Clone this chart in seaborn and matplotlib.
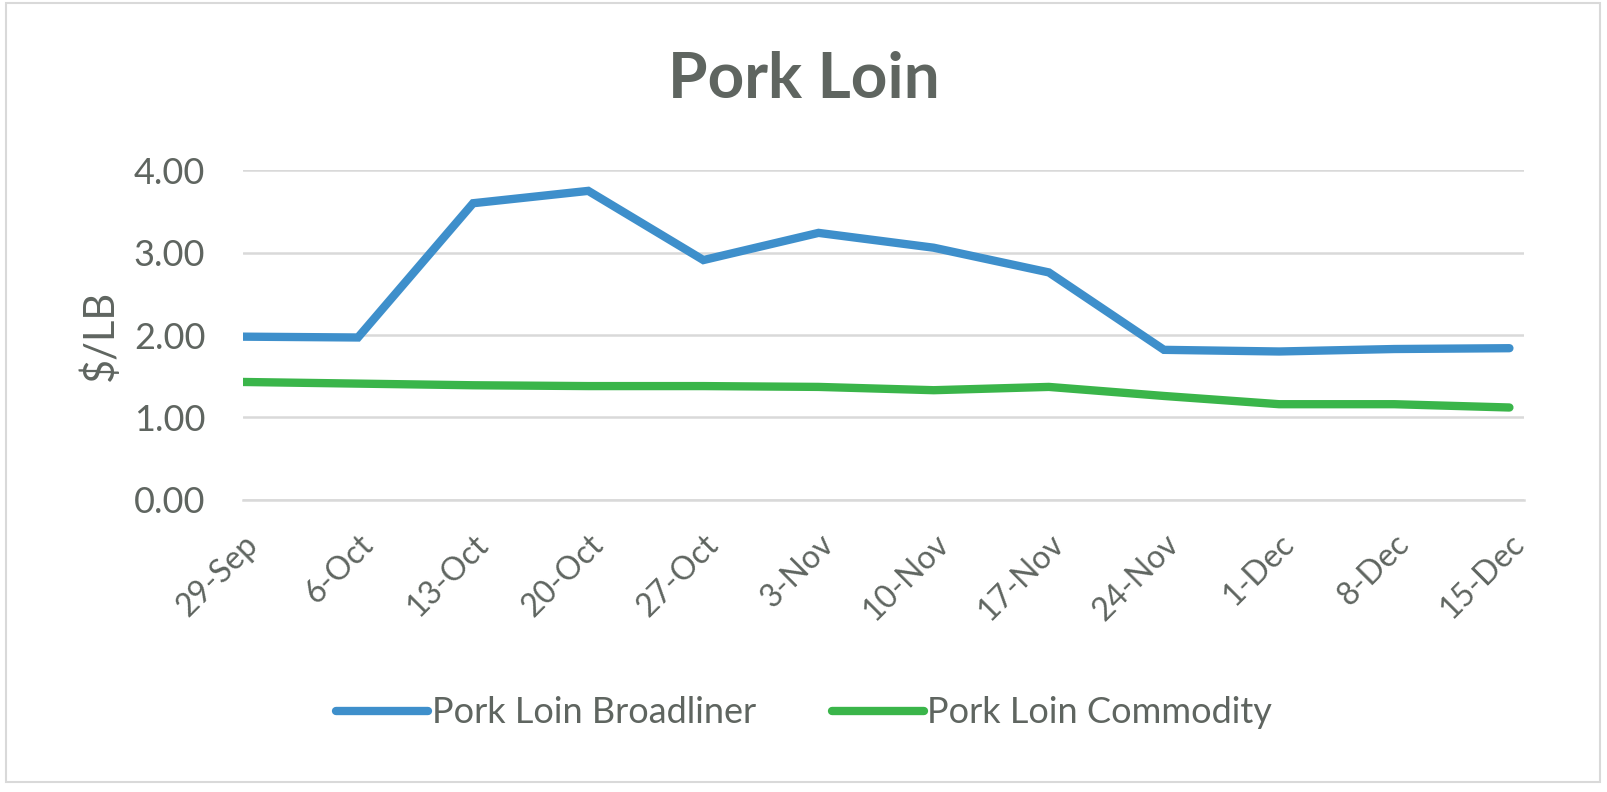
import matplotlib
matplotlib.use("Agg")
import matplotlib.pyplot as plt
import seaborn as sns
import pandas as pd
from matplotlib.patches import Rectangle

# data
weeks = ["29-Sep", "6-Oct", "13-Oct", "20-Oct", "27-Oct", "3-Nov",
         "10-Nov", "17-Nov", "24-Nov", "1-Dec", "8-Dec", "15-Dec"]
broadliner = [1.98, 1.97, 3.60, 3.75, 2.91, 3.24, 3.06, 2.76, 1.82, 1.80, 1.83, 1.84]
commodity = [1.43, 1.41, 1.39, 1.38, 1.38, 1.37, 1.33, 1.37, 1.26, 1.16, 1.16, 1.12]
series_names = ["Pork Loin Broadliner", "Pork Loin Commodity"]
colors = ["#3E8FCB", "#3AB54A"]

df = pd.DataFrame({
    "week": weeks * 2,
    "pos": list(range(len(weeks))) * 2,
    "price": broadliner + commodity,
    "series": [series_names[0]] * len(weeks) + [series_names[1]] * len(weeks),
})

sns.set_style("white")
plt.rcParams["font.family"] = ["Lato", "DejaVu Sans"]
grey = "#5F6560"

fig = plt.figure(figsize=(16.08, 7.92), dpi=100)
ax = fig.add_axes([0.151, 0.369, 0.797, 0.416])

sns.lineplot(data=df, x="pos", y="price", hue="series", palette=colors,
             linewidth=6, ax=ax, legend=False,
             solid_capstyle="round", solid_joinstyle="miter")

ax.set_xlim(0, len(weeks) - 1 + 0.13)
ax.set_ylim(0, 4)
ax.set_yticks([0, 1, 2, 3, 4])
ax.set_yticklabels([f"{v:.2f}" for v in [0, 1, 2, 3, 4]], fontsize=26, color=grey)
ax.set_xticks(range(len(weeks)))
ax.set_xticklabels(weeks, rotation=45, ha="right", rotation_mode="anchor",
                   fontsize=23, color=grey)
ax.tick_params(axis="x", direction="out", length=13, width=1.5, color="#D9D9D9", pad=8)
ax.tick_params(axis="y", length=0, pad=27)
ax.grid(axis="y", color="#D9D9D9", linewidth=1.8)
ax.set_axisbelow(True)
for s in ["top", "right", "left"]:
    ax.spines[s].set_visible(False)
ax.spines["bottom"].set_color("#D9D9D9")
ax.spines["bottom"].set_linewidth(1.8)
ax.set_xlabel("")
ax.set_ylabel("$/LB", fontsize=30, color=grey, labelpad=10)

fig.text(0.5, 0.899, "Pork Loin", ha="center", va="center",
         fontsize=46, fontweight="bold", color=grey)

handles = [plt.Line2D([], [], color=c, linewidth=6, solid_capstyle="round") for c in colors]
fig.legend(handles, series_names, loc="center", bbox_to_anchor=(0.5, 0.1),
           ncol=2, frameon=False, fontsize=26, labelcolor=grey,
           handlelength=2.55, handletextpad=0.1, columnspacing=2.1)

fig.patches.append(Rectangle((0.004, 0.012), 0.991, 0.984, transform=fig.transFigure,
                             fill=False, edgecolor="#D9D9D9", linewidth=1.5))

fig.savefig("out.png", dpi=100, facecolor="white")
